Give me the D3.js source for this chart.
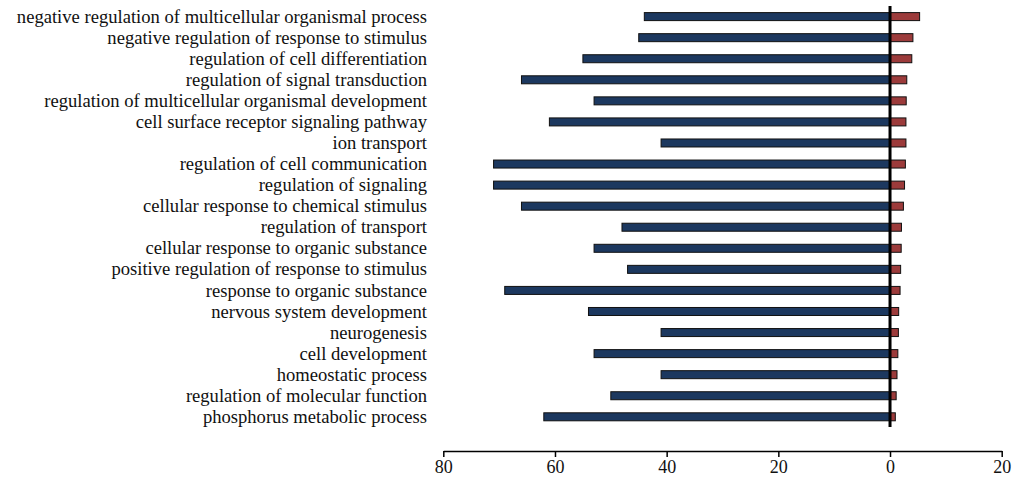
<!DOCTYPE html>
<html>
<head>
<meta charset="utf-8">
<script src="https://cdn.jsdelivr.net/npm/d3@7"></script>
<style>
  html, body { margin: 0; padding: 0; background: #fff; }
  svg { display: block; }
</style>
</head>
<body>
<svg id="chart" width="1021" height="481"></svg>
<script>
// GO terms, top to bottom
const categories = [
  "negative regulation of multicellular organismal process",
  "negative regulation of response to stimulus",
  "regulation of cell differentiation",
  "regulation of signal transduction",
  "regulation of multicellular organismal development",
  "cell surface receptor signaling pathway",
  "ion transport",
  "regulation of cell communication",
  "regulation of signaling",
  "cellular response to chemical stimulus",
  "regulation of transport",
  "cellular response to organic substance",
  "positive regulation of response to stimulus",
  "response to organic substance",
  "nervous system development",
  "neurogenesis",
  "cell development",
  "homeostatic process",
  "regulation of molecular function",
  "phosphorus metabolic process"
];

// Left-hand series (drawn toward the left of zero)
const leftValues = [44, 45, 55, 66, 53, 61, 41, 71, 71, 66, 48, 53, 47, 69, 54, 41, 53, 41, 50, 62];

// Right-hand series (drawn toward the right of zero)
const rightValues = [5.3, 4.1, 3.9, 3.0, 2.9, 2.85, 2.85, 2.75, 2.6, 2.4, 2.05, 2.0, 1.9, 1.8, 1.55, 1.5, 1.4, 1.25, 1.1, 0.95];

// Axis ticks (signed positions; labels show magnitude)
const tickValues = [-80, -60, -40, -20, 0, 20];

const svg = d3.select("#chart");

const x = d3.scaleLinear().domain([-80, 20]).range([443.3, 1001.7]);
const y = d3.scalePoint().domain(categories).range([16.6, 416.8]);
const barH = 8;

const blue = "#1c385f";
const red = "#9c3b3b";
const serif = "'Liberation Serif', 'Times New Roman', serif";

// left bars
svg.append("g").selectAll("rect")
  .data(categories)
  .join("rect")
  .attr("x", (d, i) => x(-leftValues[i]))
  .attr("y", d => y(d) - barH / 2)
  .attr("width", (d, i) => x(0) - x(-leftValues[i]))
  .attr("height", barH)
  .attr("fill", blue)
  .attr("stroke", "#111")
  .attr("stroke-width", 1);

// right bars
svg.append("g").selectAll("rect")
  .data(categories)
  .join("rect")
  .attr("x", x(0))
  .attr("y", d => y(d) - barH / 2)
  .attr("width", (d, i) => x(rightValues[i]) - x(0))
  .attr("height", barH)
  .attr("fill", red)
  .attr("stroke", "#111")
  .attr("stroke-width", 1);

// zero line
svg.append("line")
  .attr("x1", x(0)).attr("x2", x(0))
  .attr("y1", 6).attr("y2", 427)
  .attr("stroke", "#000")
  .attr("stroke-width", 3);

// category labels
svg.append("g").selectAll("text")
  .data(categories)
  .join("text")
  .attr("x", 427)
  .attr("y", d => y(d))
  .attr("dy", "0.33em")
  .attr("text-anchor", "end")
  .attr("font-family", serif)
  .attr("font-size", 18.6)
  .attr("fill", "#111")
  .text(d => d);

// bottom axis
const axis = d3.axisBottom(x)
  .tickValues(tickValues)
  .tickFormat(d => Math.abs(d))
  .tickSize(6)
  .tickSizeOuter(0)
  .tickPadding(3);

const gx = svg.append("g")
  .attr("transform", "translate(0,451)")
  .call(axis);
gx.select(".domain").attr("stroke", "#000").attr("stroke-width", 1.5);
gx.selectAll(".tick line").attr("stroke", "#000").attr("stroke-width", 1.5);
gx.selectAll(".tick text")
  .attr("font-family", serif)
  .attr("font-size", 18)
  .attr("fill", "#111");
</script>
</body>
</html>
